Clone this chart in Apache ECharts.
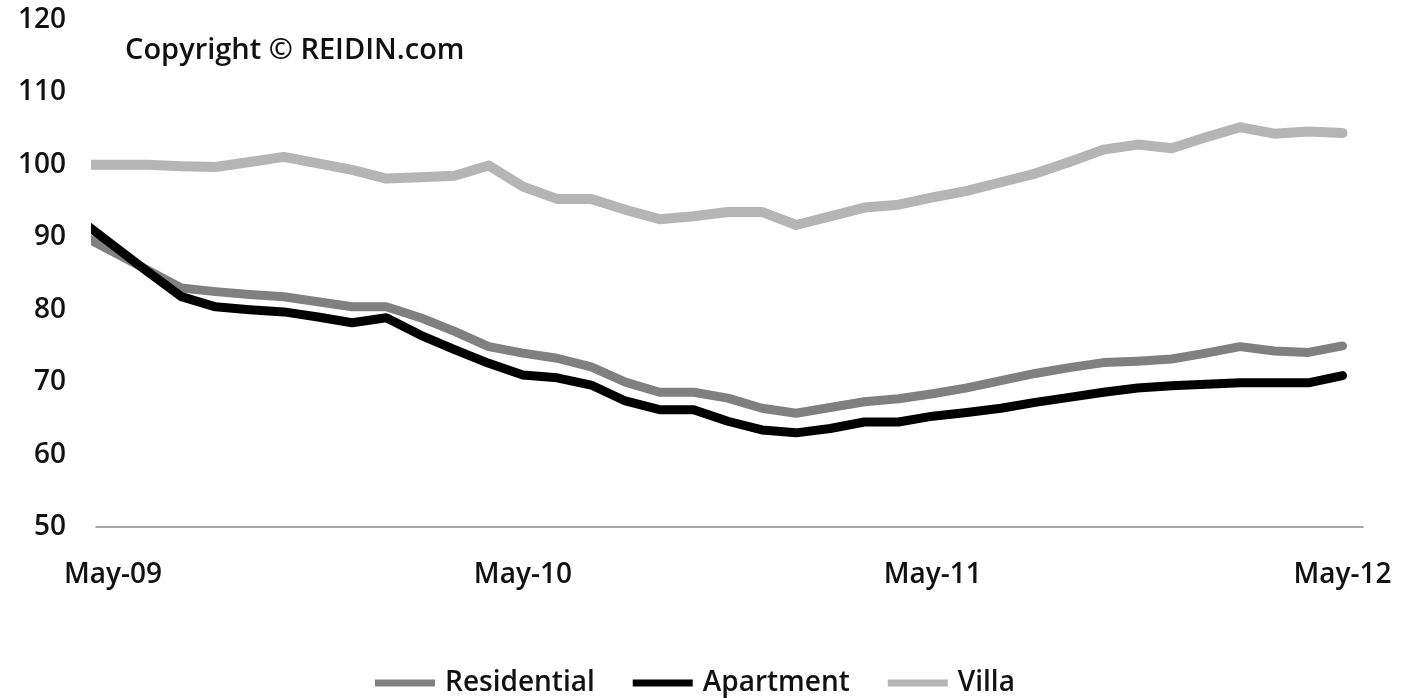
<!DOCTYPE html>
<html>
<head>
<meta charset="utf-8">
<title>REIDIN Price Index</title>
<script src="https://cdn.jsdelivr.net/npm/echarts@6/dist/echarts.min.js"></script>
<style>
  html, body { margin: 0; padding: 0; background: #ffffff; }
  #chart { width: 1402px; height: 698px; }
</style>
</head>
<body>
<div id="chart"></div>
<script>
// Monthly observations, Apr-09 through May-12 (Apr-09 sits just outside the plot and is clipped)
const months = [
  'Apr-09','May-09','Jun-09','Jul-09','Aug-09','Sep-09','Oct-09','Nov-09','Dec-09',
  'Jan-10','Feb-10','Mar-10','Apr-10','May-10','Jun-10','Jul-10','Aug-10','Sep-10',
  'Oct-10','Nov-10','Dec-10','Jan-11','Feb-11','Mar-11','Apr-11','May-11','Jun-11',
  'Jul-11','Aug-11','Sep-11','Oct-11','Nov-11','Dec-11','Jan-12','Feb-12','Mar-12',
  'Apr-12','May-12'
];

const residential = [
  90.5, 88.0, 85.5, 83.0, 82.5, 82.1, 81.8, 81.1, 80.4, 80.4,
  78.9, 77.0, 74.9, 74.0, 73.3, 72.1, 70.0, 68.6, 68.6, 67.8,
  66.4, 65.7, 66.5, 67.3, 67.7, 68.4, 69.2, 70.2, 71.2, 72.0,
  72.7, 72.9, 73.2, 74.0, 74.9, 74.3, 74.1, 75.0
];

const apartment = [
  92.5, 88.9, 85.3, 81.8, 80.4, 80.0, 79.7, 79.0, 78.2, 78.9,
  76.5, 74.5, 72.6, 71.0, 70.6, 69.6, 67.4, 66.2, 66.2, 64.6,
  63.4, 63.0, 63.6, 64.5, 64.5, 65.3, 65.8, 66.4, 67.2, 67.9,
  68.6, 69.2, 69.5, 69.7, 69.9, 69.9, 69.9, 70.9
];

const villa = [
  100.0, 100.0, 100.0, 99.8, 99.7, 100.4, 101.1, 100.2, 99.3, 98.1,
  98.3, 98.5, 99.9, 97.0, 95.3, 95.3, 93.8, 92.5, 92.9, 93.5,
  93.5, 91.7, 92.9, 94.1, 94.5, 95.5, 96.4, 97.6, 98.8, 100.4,
  102.1, 102.8, 102.3, 103.8, 105.2, 104.3, 104.6, 104.4
];

// Month positions on the value axis: May-09 = 0 ... May-12 = 36
const labelMonths = [0, 12, 24, 36];
const toPairs = arr => arr.map((v, i) => [i - 1, v]);

const FONT = '"Open Sans", "Noto Sans", sans-serif';

const chart = echarts.init(document.getElementById('chart'), null, { renderer: 'canvas' });

chart.setOption({
  animation: false,
  backgroundColor: '#ffffff',
  grid: { left: 96, right: 39, top: 20, bottom: 171, containLabel: false },
  xAxis: {
    type: 'value',
    min: -0.5,
    max: 36.6,
    axisLine: { show: true, lineStyle: { color: '#8c8c8c', width: 1.5 } },
    axisTick: { show: false },
    splitLine: { show: false },
    axisLabel: {
      customValues: labelMonths,
      formatter: v => months[Math.round(v) + 1],
      color: '#111',
      fontFamily: FONT,
      fontWeight: 600,
      fontSize: 28,
      margin: 34
    }
  },
  yAxis: {
    type: 'value',
    min: 50,
    max: 120,
    interval: 10,
    axisLine: { show: false },
    axisTick: { show: false },
    splitLine: { show: false },
    axisLabel: {
      color: '#111',
      fontFamily: FONT,
      fontWeight: 600,
      fontSize: 28,
      margin: 30
    }
  },
  legend: {
    bottom: -4,
    left: 370,
    icon: 'rect',
    itemWidth: 60,
    itemHeight: 7,
    itemGap: 38,
    textStyle: {
      color: '#111',
      fontFamily: FONT,
      fontWeight: 600,
      fontSize: 28,
      padding: [0, 0, 0, 5]
    },
    data: ['Residential', 'Apartment', 'Villa']
  },
  graphic: [{
    type: 'text',
    left: 125,
    top: 36,
    style: {
      text: 'Copyright © REIDIN.com',
      fill: '#111',
      font: '600 29px ' + FONT
    }
  }],
  series: [
    {
      name: 'Residential',
      type: 'line',
      data: toPairs(residential),
      showSymbol: false,
      symbol: 'none',
      color: '#808080',
      lineStyle: { color: '#808080', width: 9, cap: 'round', join: 'round' }
    },
    {
      name: 'Apartment',
      type: 'line',
      data: toPairs(apartment),
      showSymbol: false,
      symbol: 'none',
      color: '#000000',
      lineStyle: { color: '#000000', width: 9, cap: 'round', join: 'round' }
    },
    {
      name: 'Villa',
      type: 'line',
      data: toPairs(villa),
      showSymbol: false,
      symbol: 'none',
      color: '#b5b5b5',
      lineStyle: { color: '#b5b5b5', width: 10, cap: 'round', join: 'round' }
    }
  ]
});
</script>
</body>
</html>
